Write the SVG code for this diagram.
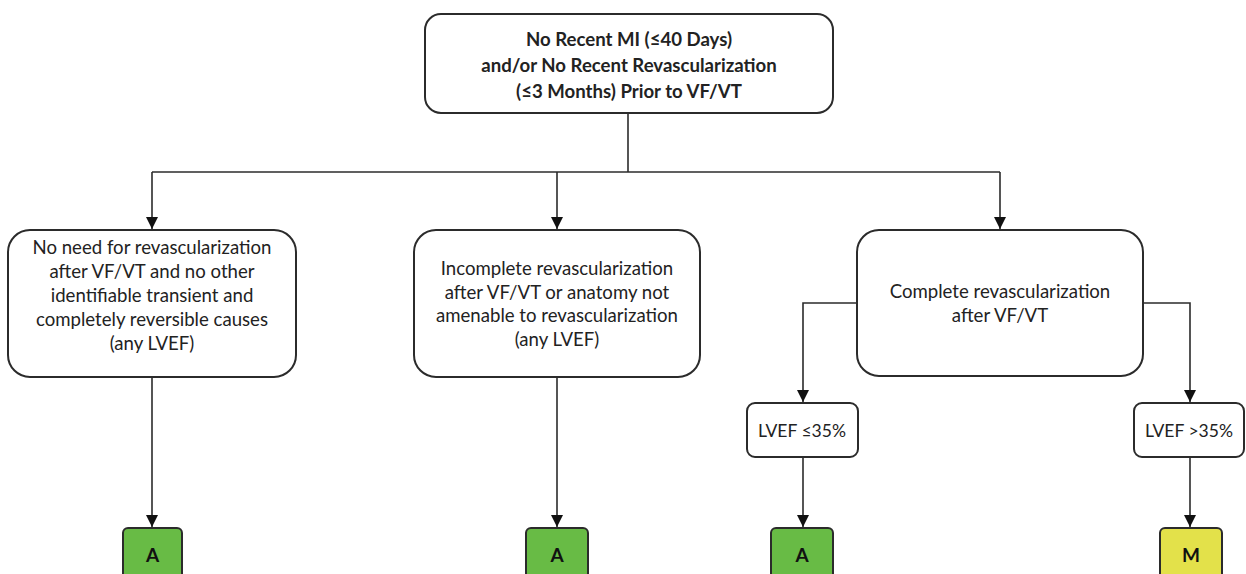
<svg xmlns="http://www.w3.org/2000/svg" width="1246" height="574" viewBox="0 0 1246 574">
<style>
.box{fill:#fff;stroke:#2b2b2b;stroke-width:2}
.t{font-family:Lato,"Liberation Sans",sans-serif;font-size:18.6px;fill:#222;text-anchor:middle}
.ts{font-family:Lato,"Liberation Sans",sans-serif;font-size:17.5px;fill:#222;text-anchor:middle}
.tb{font-family:Lato,"Liberation Sans",sans-serif;font-size:18.6px;font-weight:bold;fill:#222;text-anchor:middle}
.c{fill:none;stroke:#2b2b2b;stroke-width:1.6}
.ga{fill:#68bb45;stroke:#2b2b2b;stroke-width:2}
.ym{fill:#e3e14a;stroke:#2b2b2b;stroke-width:2}
.lt{font-family:Lato,"Liberation Sans",sans-serif;font-size:19px;font-weight:bold;fill:#111;text-anchor:middle}
</style>
<defs>
<marker id="ah" viewBox="0 0 12 12" refX="12" refY="6" markerWidth="12" markerHeight="12" markerUnits="userSpaceOnUse" orient="auto">
<path d="M0,0 L12,6 L0,12 z" fill="#111"/>
</marker>
</defs>
<rect width="1246" height="574" fill="#fff"/>
<g id="connectors">
<path class="c" d="M628,113 V172"/>
<path class="c" d="M152,172 H1000"/>
<path class="c" d="M152,172 V229" marker-end="url(#ah)"/>
<path class="c" d="M557,172 V229" marker-end="url(#ah)"/>
<path class="c" d="M1000,172 V229" marker-end="url(#ah)"/>
<path class="c" d="M152,377 V527" marker-end="url(#ah)"/>
<path class="c" d="M557,377 V527" marker-end="url(#ah)"/>
<path class="c" d="M857,303 H803 V402" marker-end="url(#ah)"/>
<path class="c" d="M1143,303 H1190 V402" marker-end="url(#ah)"/>
<path class="c" d="M803,457 V527" marker-end="url(#ah)"/>
<path class="c" d="M1190,457 V527" marker-end="url(#ah)"/>
</g>
<g id="top">
<rect class="box" x="425" y="14" width="408" height="99" rx="16"/>
<text class="tb" x="629" y="46">No Recent MI (≤40 Days)</text>
<text class="tb" x="629" y="72">and/or No Recent Revascularization</text>
<text class="tb" x="629" y="98">(≤3 Months) Prior to VF/VT</text>
</g>
<g id="left">
<rect class="box" x="8" y="230" width="288" height="147" rx="22"/>
<text class="t" x="152" y="254">No need for revascularization</text>
<text class="t" x="152" y="278">after VF/VT and no other</text>
<text class="t" x="152" y="302">identifiable transient and</text>
<text class="t" x="152" y="326">completely reversible causes</text>
<text class="t" x="152" y="350">(any LVEF)</text>
</g>
<g id="middle">
<rect class="box" x="414" y="230" width="286" height="147" rx="22"/>
<text class="t" x="557" y="275">Incomplete revascularization</text>
<text class="t" x="557" y="298.5">after VF/VT or anatomy not</text>
<text class="t" x="557" y="322">amenable to revascularization</text>
<text class="t" x="557" y="345.5">(any LVEF)</text>
</g>
<g id="right">
<rect class="box" x="857" y="230" width="286" height="146" rx="22"/>
<text class="t" x="1000" y="298">Complete revascularization</text>
<text class="t" x="1000" y="322">after VF/VT</text>
</g>
<g id="lvef-low">
<rect class="box" x="747" y="403" width="111" height="54" rx="8"/>
<text class="ts" x="802" y="437">LVEF ≤35%</text>
</g>
<g id="lvef-high">
<rect class="box" x="1134" y="403" width="110" height="54" rx="8"/>
<text class="ts" x="1189" y="437">LVEF &gt;35%</text>
</g>
<g id="a1">
<rect class="ga" x="123" y="528" width="59" height="52" rx="5"/>
<text class="lt" x="152.5" y="562">A</text>
</g>
<g id="a2">
<rect class="ga" x="526" y="528" width="62" height="52" rx="5"/>
<text class="lt" x="557" y="562">A</text>
</g>
<g id="a3">
<rect class="ga" x="771" y="528" width="62" height="52" rx="5"/>
<text class="lt" x="802" y="562">A</text>
</g>
<g id="m">
<rect class="ym" x="1160" y="528" width="62" height="52" rx="5"/>
<text class="lt" x="1191" y="562">M</text>
</g>
</svg>
